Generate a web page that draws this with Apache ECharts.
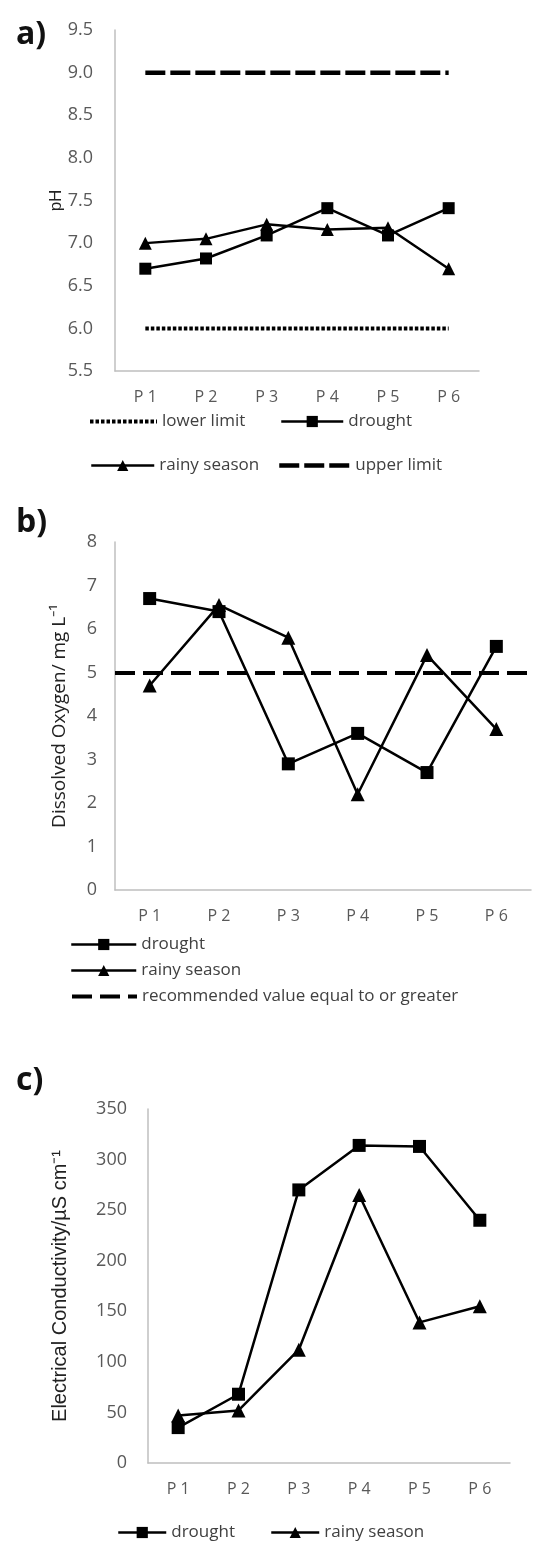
<!DOCTYPE html>
<html>
<head>
<meta charset="utf-8">
<script src="https://cdn.jsdelivr.net/npm/echarts@6/dist/echarts.min.js"></script>
<style>
html,body{margin:0;padding:0;background:#fff;}
.c{position:absolute;left:0;width:536px;}
</style>
</head>
<body>
<div id="ca" class="c" style="top:0;height:490px"></div>
<div id="cb" class="c" style="top:490px;height:520px"></div>
<div id="cc" class="c" style="top:1010px;height:533px"></div>
<script>
// ---- data ----
const categories = ['P 1', 'P 2', 'P 3', 'P 4', 'P 5', 'P 6'];
// a) pH
const phDrought = [6.7, 6.82, 7.09, 7.41, 7.09, 7.41];
const phRainy = [7.0, 7.05, 7.22, 7.16, 7.18, 6.7];
const phLower = [6, 6, 6, 6, 6, 6];
const phUpper = [9, 9, 9, 9, 9, 9];
const phTicks = [5.5, 6.0, 6.5, 7.0, 7.5, 8.0, 8.5, 9.0, 9.5];
// b) dissolved oxygen
const doDrought = [6.7, 6.4, 2.9, 3.6, 2.7, 5.6];
const doRainy = [4.7, 6.55, 5.8, 2.2, 5.4, 3.7];
const doRecommended = 5;
const doTicks = [0, 1, 2, 3, 4, 5, 6, 7, 8];
// c) electrical conductivity
const ecDrought = [35, 68, 270, 314, 313, 240];
const ecRainy = [47, 52, 112, 265, 139, 155];
const ecTicks = [0, 50, 100, 150, 200, 250, 300, 350];

const FONT = 'Open Sans';
const tickColor = '#595959';
const axisGrey = '#bfbfbf';
const legendText = { fontFamily: 'Open Sans', fontSize: 17, color: '#404040' };

const lowerStyle = { color: '#000', width: 4, type: [3.5, 2] };
const upperStyle = { color: '#000', width: 4.5, type: [20, 5] };
const recStyle = { color: '#000', width: 4, type: [20, 8] };
const dataStyle = { color: '#000', width: 2.5 };

function xAxisCfg() {
  return {
    type: 'category', data: categories, boundaryGap: true,
    axisLine: { lineStyle: { color: axisGrey, width: 1.5 } },
    axisTick: { show: false },
    axisLabel: { color: tickColor, fontFamily: FONT, fontSize: 16, margin: 18 },
    splitLine: { show: false }
  };
}
function yAxisCfg(ticks, name, nameFont, nameGap, margin, fmt) {
  return {
    type: 'value', min: ticks[0], max: ticks[ticks.length - 1],
    interval: ticks[1] - ticks[0],
    name: name, nameLocation: 'middle', nameRotate: 90, nameGap: nameGap,
    nameMoveOverlap: false,
    nameTextStyle: nameFont,
    axisLine: { show: true, lineStyle: { color: axisGrey, width: 1.5 } },
    axisTick: { show: false },
    splitLine: { show: false },
    axisLabel: { color: tickColor, fontFamily: FONT, fontSize: 18, margin: margin, formatter: fmt }
  };
}
function title(t, top) {
  return { text: t, left: 11, top: top, textStyle: { fontFamily: 'Open Sans', fontWeight: 'bold', fontSize: 32, color: '#111' } };
}
function dataLine(name, data, symbol, size) {
  return {
    name: name, type: 'line', data: data, symbol: symbol, symbolSize: size,
    lineStyle: dataStyle, itemStyle: { color: '#000' },
    emphasis: { disabled: true }, z: 3
  };
}
function legendOne(name, left, top, w, ls, hideSymbol) {
  const item = { name: name, lineStyle: ls };
  if (hideSymbol) item.itemStyle = { opacity: 0 };
  return {
    data: [item], left: left, top: top, itemWidth: w, itemHeight: 14, itemGap: 0,
    textStyle: legendText, selectedMode: false, padding: 0
  };
}

// ---- chart a ----
const ca = echarts.init(document.getElementById('ca'), null, { renderer: 'canvas' });
ca.setOption({
  animation: false,
  title: title('a)', 14),
  grid: { left: 115, top: 30, width: 364, height: 341 },
  xAxis: xAxisCfg(),
  yAxis: yAxisCfg(phTicks, 'pH', { fontFamily: 'Liberation Sans', fontSize: 17, color: '#222' }, 50, 22, v => v.toFixed(1)),
  legend: [
    legendOne('lower limit', 88, 413, 67, lowerStyle, true),
    legendOne('drought', 280, 413, 62, dataStyle, false),
    legendOne('rainy season', 90, 457, 63, dataStyle, false),
    legendOne('upper limit', 277, 457, 71, upperStyle, true)
  ],
  series: [
    { name: 'lower limit', type: 'line', data: phLower, symbol: 'none', itemStyle: { color: '#000' },
      lineStyle: lowerStyle, emphasis: { disabled: true } },
    dataLine('drought', phDrought, 'rect', 12),
    dataLine('rainy season', phRainy, 'triangle', 13),
    { name: 'upper limit', type: 'line', data: phUpper, symbol: 'none', itemStyle: { color: '#000' },
      lineStyle: upperStyle, emphasis: { disabled: true } }
  ]
});

// ---- chart b ----
const cb = echarts.init(document.getElementById('cb'), null, { renderer: 'canvas' });
cb.setOption({
  animation: false,
  title: title('b)', 12),
  grid: { left: 115, top: 52, width: 416, height: 348 },
  xAxis: xAxisCfg(),
  yAxis: yAxisCfg(doTicks, 'Dissolved Oxygen/ mg L⁻¹', { fontFamily: 'Open Sans', fontSize: 19, color: '#222' }, 46, 18),
  legend: [
    legendOne('drought', 70, 446, 65, dataStyle, false),
    legendOne('rainy season', 70, 472, 65, dataStyle, false),
    legendOne('recommended value equal to or greater', 70, 498, 65, recStyle, true)
  ],
  series: [
    dataLine('drought', doDrought, 'rect', 13),
    dataLine('rainy season', doRainy, 'triangle', 14),
    { name: 'recommended value equal to or greater', type: 'line', data: [], symbol: 'none',
      itemStyle: { color: '#000' }, lineStyle: recStyle,
      markLine: { silent: true, symbol: 'none', label: { show: false },
        lineStyle: recStyle, data: [{ yAxis: doRecommended }] } }
  ]
});

// ---- chart c ----
const cc = echarts.init(document.getElementById('cc'), null, { renderer: 'canvas' });
cc.setOption({
  animation: false,
  title: title('c)', 50),
  grid: { left: 148, top: 99, width: 362, height: 354 },
  xAxis: xAxisCfg(),
  yAxis: yAxisCfg(ecTicks, 'Electrical Conductivity/µS cm⁻¹', { fontFamily: 'Liberation Sans', fontSize: 20, color: '#222' }, 78, 21),
  legend: [
    legendOne('drought', 117, 514, 48, dataStyle, false),
    legendOne('rainy season', 270, 514, 48, dataStyle, false)
  ],
  series: [
    dataLine('drought', ecDrought, 'rect', 13),
    dataLine('rainy season', ecRainy, 'triangle', 14)
  ]
});
</script>
</body>
</html>
